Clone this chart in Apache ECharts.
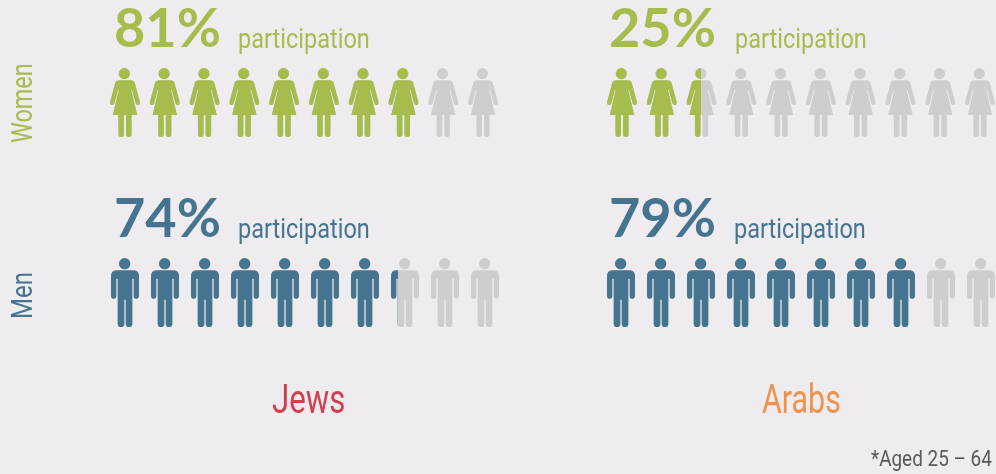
<!DOCTYPE html>
<html>
<head>
<meta charset="utf-8">
<style>
html,body{margin:0;padding:0;background:#eeecee;}
#main{width:996px;height:474px;}
</style>
<script src="https://cdn.jsdelivr.net/npm/echarts@6/dist/echarts.min.js"></script>
</head>
<body>
<div id="main"></div>
<script>
// percent participation, aged 25-64
var groups = ['Jews', 'Arabs'];
var womenValues = [81, 25];
var menValues = [74, 79];
// where the colour stops on the row of 10 people
var womenFill = [81, 24.2];
var menFill = [74, 79.6];
var tickMax = 100;

var green = '#a6bd4e', blue = '#457490', grey = '#cfcecf';
var red = '#d13f50', orange = '#f0924c', textGrey = '#58595b';

var womanPath = 'path://M43,-2A17,17,0,1,1,43,32A17,17,0,1,1,43,-2Z' +
	'M27,35L63,35Q72,35,75,44L90,100Q92,109,85,110Q79,111,77,105L66,64L64,65L82,140L65,140L65,199Q65,207,56.5,207Q48,207,48,199L48,140L42,140L42,199Q42,207,33.500,207Q25,207,25,199L25,140L8,140L26,65L24,64L13,105Q11,111,5,110Q-2,109,0,100L15,44Q18,35,27,35Z';
var manPath = 'path://M41,0A17,17,0,1,1,41,34A17,17,0,1,1,41,0Z' +
	'M16,37L68,37Q84,37,84,55L84,113Q84,122,76,122Q68,122,68,113L68,62L64,62L64,197Q64,207,54,207Q44,207,44,197L44,125L40,125L40,197Q40,207,30,207Q20,207,20,197L20,62L16,62L16,113Q16,122,8,122Q0,122,0,113L0,55Q0,37,16,37Z';

var rows = [
	{ fill: womenFill, path: womanPath, color: green, top: 68, size: [30, 69], lefts: [110, 607] },
	{ fill: menFill, path: manPath, color: blue, top: 258, size: [28, 69], lefts: [111, 607] }
];

var grid = [], xAxis = [], yAxis = [], series = [];
rows.forEach(function (row) {
	row.fill.forEach(function (v, i) {
		var n = grid.length;
		grid.push({ left: row.lefts[i], top: row.top, width: 388, height: 69 });
		xAxis.push({ gridIndex: n, type: 'value', min: 0, max: tickMax, show: false });
		yAxis.push({ gridIndex: n, type: 'category', data: [groups[i]], show: false });
		// grey people behind, coloured people clipped at the value
		series.push({
			type: 'pictorialBar', xAxisIndex: n, yAxisIndex: n, silent: true, animation: false,
			symbol: row.path, symbolSize: row.size, symbolRepeat: 10, symbolBoundingData: tickMax,
			symbolPosition: 'start', barGap: '-100%', barWidth: 69,
			itemStyle: { color: grey }, data: [tickMax], z: 2
		});
		series.push({
			type: 'pictorialBar', xAxisIndex: n, yAxisIndex: n, silent: true, animation: false,
			symbol: row.path, symbolSize: row.size, symbolRepeat: 10, symbolBoundingData: tickMax,
			symbolClip: true, symbolPosition: 'start', barGap: '-100%', barWidth: 69,
			itemStyle: { color: row.color }, data: [v], z: 3
		});
	});
});

// y is the middle of the text line
function txt(x, y, text, font, color, scaleX, rotation) {
	return { type: 'text', x: x, y: y, silent: true, scaleX: scaleX || 1, rotation: rotation || 0,
		style: { text: text, font: font, fill: color, verticalAlign: 'middle' } };
}
var bigFont = 'bold 54px Lato, sans-serif';
var smallFont = '28px Roboto, sans-serif';
var sideFont = '30px Roboto, sans-serif';
var nameFont = '40px Roboto, sans-serif';
var graphics = [
	txt(114, 30, womenValues[0] + '%', bigFont, green),
	txt(609, 30, womenValues[1] + '%', bigFont, green),
	txt(114, 220, menValues[0] + '%', bigFont, blue),
	txt(609, 220, menValues[1] + '%', bigFont, blue),
	txt(238, 41, 'participation', smallFont, green, 0.84),
	txt(735, 41, 'participation', smallFont, green, 0.84),
	txt(238, 231, 'participation', smallFont, blue, 0.84),
	txt(734, 231, 'participation', smallFont, blue, 0.84),
	txt(24, 143, 'Women', sideFont, green, 0.78, Math.PI / 2),
	txt(24, 319, 'Men', sideFont, blue, 0.8, Math.PI / 2),
	txt(272, 403, groups[0], nameFont, red, 0.78),
	txt(762, 403, groups[1], nameFont, orange, 0.76),
	txt(871, 460, '*Aged 25 – 64', '22px Roboto, sans-serif', textGrey, 0.86)
];

var chart = echarts.init(document.getElementById('main'));
chart.setOption({
	backgroundColor: '#eeecee',
	animation: false,
	grid: grid,
	xAxis: xAxis,
	yAxis: yAxis,
	series: series,
	graphic: graphics
});
</script>
</body>
</html>
